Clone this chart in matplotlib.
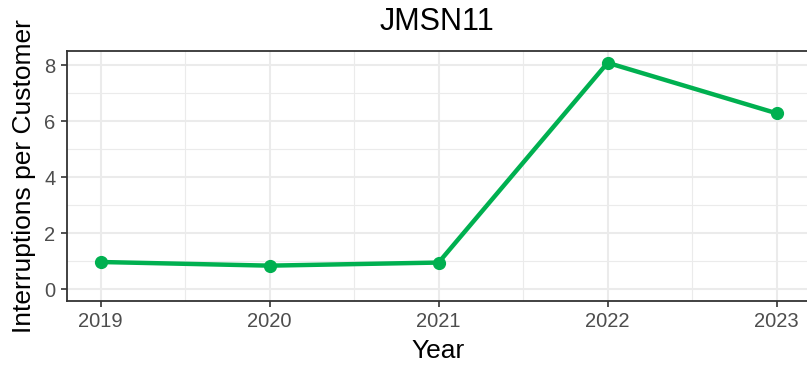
import matplotlib
matplotlib.use("Agg")
import matplotlib.pyplot as plt
from matplotlib.ticker import MultipleLocator

years = [2019, 2020, 2021, 2022, 2023]
interruptions = [0.98, 0.85, 0.96, 8.08, 6.28]
title = "JMSN11"

plt.rcParams["font.family"] = ["Liberation Sans", "DejaVu Sans"]

W, H = 807, 370
fig = plt.figure(figsize=(W / 100, H / 100), dpi=100)
left, right, top, bottom = 66.7, 810.5, 51, 301
ax = fig.add_axes([left / W, 1 - bottom / H, (right - left) / W, (bottom - top) / H])

green = "#00B050"
ax.plot(years, interruptions, color=green, linewidth=3.2, marker="o", markersize=8.5,
        solid_capstyle="butt", zorder=3)

ax.set_xlim(2018.8, 2023.2)
ax.set_ylim(-0.41, 8.5)
ax.xaxis.set_major_locator(MultipleLocator(1))
ax.xaxis.set_minor_locator(MultipleLocator(0.5))
ax.yaxis.set_major_locator(MultipleLocator(2))
ax.yaxis.set_minor_locator(MultipleLocator(1))
ax.grid(which="major", color="#EBEBEB", linewidth=1.5)
ax.grid(which="minor", color="#EBEBEB", linewidth=0.8)
ax.set_axisbelow(True)

for s in ax.spines.values():
    s.set_color("#333333")
    s.set_linewidth(1.3)

ax.tick_params(which="major", length=4, width=1.2, color="#333333",
               labelcolor="#4D4D4D", labelsize=14.5, pad=4)
ax.tick_params(which="minor", length=0)

ax.set_title(title, fontsize=22, color="black", pad=15, x=(437 - left) / (right - left))
ax.set_xlabel("Year", fontsize=19, labelpad=6)
ax.set_ylabel("Interruptions per Customer", fontsize=19, labelpad=6)

fig.savefig("out.png", dpi=100)
